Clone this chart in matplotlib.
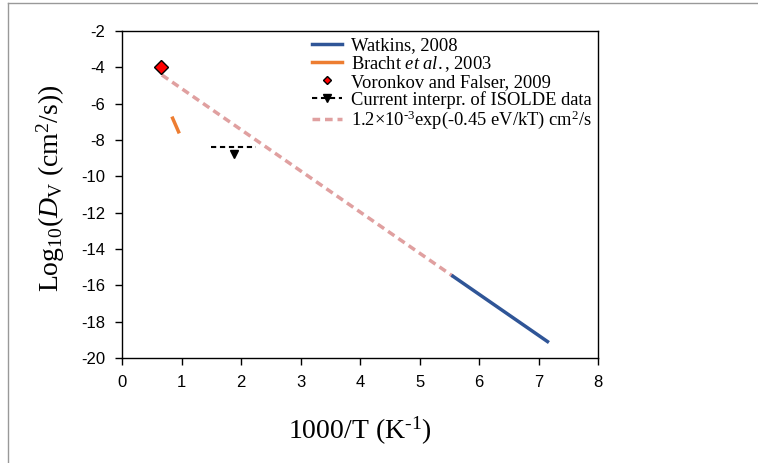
import matplotlib
matplotlib.use("Agg")
from matplotlib import pyplot as plt
from matplotlib.lines import Line2D

# data
watkins_x = [5.56, 7.15]
watkins_y = [-15.5, -19.1]
bracht_x = [0.85, 0.95]
bracht_y = [-6.8, -7.55]
voronkov_x = [0.66]
voronkov_y = [-4.0]
isolde_x = [1.5, 2.25]
isolde_y = [-8.4, -8.4]
isolde_mark_x = [1.89]
isolde_mark_y = [-8.75]
fit_x = [0.67, 5.56]
fit_y = [-4.42, -15.5]

x_ticks = [0, 1, 2, 3, 4, 5, 6, 7, 8]
y_ticks = [-20, -18, -16, -14, -12, -10, -8, -6, -4, -2]

plt.rcParams['mathtext.fontset'] = 'custom'
plt.rcParams['mathtext.rm'] = 'Liberation Serif'
plt.rcParams['mathtext.it'] = 'Liberation Serif:italic'
plt.rcParams['axes.unicode_minus'] = False

fig = plt.figure(figsize=(7.58, 4.63), dpi=100)
ax = fig.add_axes([0.161, 0.227, 0.628, 0.706])

pink = '#E0A0A0'
ax.plot(fit_x, fit_y, color=pink, lw=2.5, ls=(0, (2.2, 1.4)), zorder=2)
ax.plot(watkins_x, watkins_y, color='#2F5597', lw=2.5, zorder=3)
ax.plot(bracht_x, bracht_y, color='#ED7D31', lw=2.5, zorder=3)
ax.plot(isolde_x, isolde_y, color='black', lw=1.5, ls=(0, (2.5, 1.8)), zorder=3)
ax.plot(isolde_mark_x, isolde_mark_y, 'v', color='black', ms=6, zorder=4)
ax.plot(voronkov_x, voronkov_y, 'D', color='red', mec='black', mew=1, ms=7, zorder=5)

ax.set_xlim(0, 8)
ax.set_ylim(-20, -2)
ax.set_xticks(x_ticks)
ax.set_yticks(y_ticks)
ax.tick_params(direction='out', length=5, width=1, labelsize=12, pad=7)
for lab in ax.get_xticklabels() + ax.get_yticklabels():
    lab.set_family('Liberation Sans')
for s in ax.spines.values():
    s.set_linewidth(1)

ax.set_xlabel('1000/T (K$^{\\text{-1}}$)', fontsize=20, family='Liberation Serif')
ax.set_ylabel('Log$_{10}$($D$$_\\mathrm{V}$ (cm$^{2}$/s))', fontsize=20, family='Liberation Serif')
ax.xaxis.set_label_coords(0.5, -0.175)
ax.yaxis.set_label_coords(-0.115, 0.518)

handles = [
    Line2D([], [], color='#2F5597', lw=2.5),
    Line2D([], [], color='#ED7D31', lw=2.5),
    Line2D([], [], ls='none', marker='D', color='red', mec='black', ms=4),
    Line2D([], [], color='black', lw=1.5, ls=(0, (2.5, 1.8)), marker='v', ms=6, markevery=[1]),
    Line2D([], [], color=pink, lw=2.5, ls=(0, (2.2, 1.4))),
]
labels = [
    'Watkins, 2008',
    'Bracht $et\\ al.$, 2003',
    'Voronkov and Falser, 2009',
    'Current interpr. of ISOLDE data',
    '1.2×10$^{\\text{-3}}$exp(-0.45 eV/kT) cm$^{2}$/s',
]
ax.legend(handles, labels, loc='upper left', bbox_to_anchor=(0.4116, 0.92),
          bbox_transform=fig.transFigure, frameon=False,
          prop={'family': 'Liberation Serif', 'size': 13.3},
          handlelength=1.6, handletextpad=0.5, labelspacing=0.0, borderpad=0,
          borderaxespad=0)

# picture border
fig.add_artist(Line2D([8 / 758, 1], [1 - 3 / 463, 1 - 3 / 463], color='#999999', lw=1))
fig.add_artist(Line2D([8 / 758, 8 / 758], [0, 1 - 3 / 463], color='#999999', lw=1))

fig.savefig('out.png', dpi=100)
